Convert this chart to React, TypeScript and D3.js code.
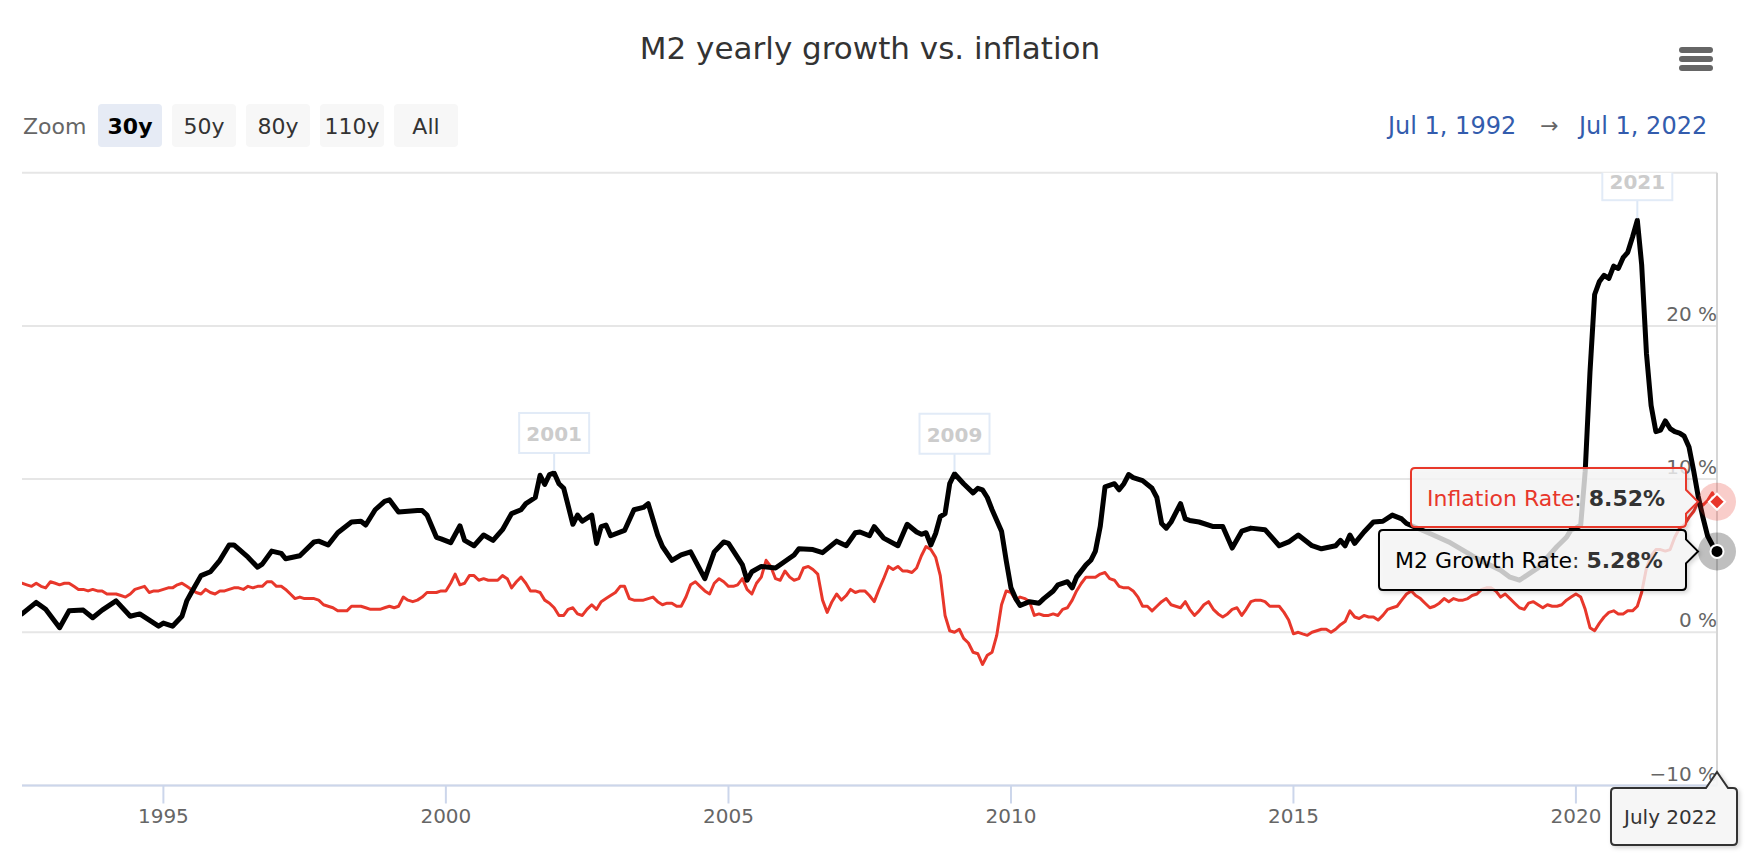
import React from "react";
import * as d3 from "d3";

// ---- data ----
const chartTitle = "M2 yearly growth vs. inflation";
const zoomButtons = ["30y", "50y", "80y", "110y", "All"];
const selectedZoom = "30y";
const rangeFrom = "Jul 1, 1992";
const rangeTo = "Jul 1, 2022";
const hoverLabel = "July 2022";

const xStart = "1992-07";
const xEnd = "2022-07";
const xTickYears = [1995, 2000, 2005, 2010, 2015, 2020];
const yGridValues = [-10, 0, 10, 20, 30];
const yLabelValues = [-10, 0, 10, 20];

// inflation (monthly, from Jul 1992)
const inflationStart = "1992-07";
const inflationValues = [
	3.2, 3.1, 3.0, 3.2, 3.0, 2.9,
	3.3, 3.2, 3.1, 3.2, 3.2, 3.0, 2.8, 2.8, 2.7, 2.8, 2.7, 2.7,
	2.5, 2.5, 2.5, 2.4, 2.3, 2.5, 2.8, 2.9, 3.0, 2.6, 2.7, 2.7,
	2.8, 2.9, 2.9, 3.1, 3.2, 3.0, 2.8, 2.6, 2.5, 2.8, 2.6, 2.5,
	2.7, 2.7, 2.8, 2.9, 2.9, 2.8, 3.0, 2.9, 3.0, 3.0, 3.3, 3.3,
	3.0, 3.0, 2.8, 2.5, 2.2, 2.3, 2.2, 2.2, 2.2, 2.1, 1.8, 1.7,
	1.6, 1.4, 1.4, 1.4, 1.7, 1.7, 1.7, 1.6, 1.5, 1.5, 1.5, 1.6,
	1.7, 1.6, 1.7, 2.3, 2.1, 2.0, 2.1, 2.3, 2.6, 2.6, 2.6, 2.7,
	2.7, 3.2, 3.8, 3.1, 3.2, 3.7, 3.7, 3.4, 3.5, 3.4, 3.4, 3.4,
	3.7, 3.5, 2.9, 3.3, 3.6, 3.2, 2.7, 2.7, 2.6, 2.1, 1.9, 1.6,
	1.1, 1.1, 1.5, 1.6, 1.2, 1.1, 1.5, 1.8, 1.5, 2.0, 2.2, 2.4,
	2.6, 3.0, 3.0, 2.2, 2.1, 2.1, 2.1, 2.2, 2.3, 2.0, 1.8, 1.9,
	1.9, 1.7, 1.7, 2.3, 3.1, 3.3, 3.0, 2.7, 2.5, 3.2, 3.5, 3.3,
	3.0, 3.0, 3.1, 3.5, 2.8, 2.5, 3.2, 3.6, 4.7, 4.3, 3.5, 3.4,
	4.0, 3.6, 3.4, 3.5, 4.2, 4.3, 4.1, 3.8, 2.1, 1.3, 2.0, 2.5,
	2.1, 2.4, 2.8, 2.6, 2.7, 2.7, 2.4, 2.0, 2.8, 3.5, 4.3, 4.1,
	4.3, 4.0, 4.0, 3.9, 4.2, 5.0, 5.6, 5.4, 4.9, 3.7, 1.1, 0.1,
	0.0, 0.2, -0.4, -0.7, -1.3, -1.4, -2.1, -1.5, -1.3, -0.2, 1.8, 2.7,
	2.6, 2.1, 2.3, 2.2, 2.0, 1.1, 1.2, 1.1, 1.1, 1.2, 1.1, 1.5,
	1.6, 2.1, 2.7, 3.2, 3.6, 3.6, 3.6, 3.8, 3.9, 3.5, 3.4, 3.0,
	2.9, 2.9, 2.7, 2.3, 1.7, 1.7, 1.4, 1.7, 2.0, 2.2, 1.8, 1.7,
	1.6, 2.0, 1.5, 1.1, 1.4, 1.8, 2.0, 1.5, 1.2, 1.0, 1.2, 1.5,
	1.6, 1.1, 1.5, 2.0, 2.1, 2.1, 2.0, 1.7, 1.7, 1.7, 1.3, 0.8,
	-0.1, 0.0, -0.1, -0.2, 0.0, 0.1, 0.2, 0.2, 0.0, 0.2, 0.5, 0.7,
	1.4, 1.0, 0.9, 1.1, 1.0, 1.0, 0.8, 1.1, 1.5, 1.6, 1.7, 2.1,
	2.5, 2.7, 2.4, 2.2, 1.9, 1.6, 1.7, 1.9, 2.2, 2.0, 2.2, 2.1,
	2.1, 2.2, 2.4, 2.5, 2.8, 2.9, 2.9, 2.7, 2.3, 2.5, 2.2, 1.9,
	1.6, 1.5, 1.9, 2.0, 1.8, 1.6, 1.8, 1.7, 1.7, 1.8, 2.1, 2.3,
	2.5, 2.3, 1.5, 0.3, 0.1, 0.6, 1.0, 1.3, 1.4, 1.2, 1.2, 1.4,
	1.4, 1.7, 2.6, 4.2, 5.0, 5.4, 5.4, 5.3, 5.4, 6.2, 6.8, 7.0,
	7.5, 7.9, 8.5, 8.3, 8.6, 9.1, 8.52,
];

// M2 growth, points
const m2Points: [string, number][] = [
	["1992-07", 1.2], ["1992-10", 1.95], ["1992-12", 1.5], ["1993-03", 0.3], ["1993-05", 1.4],
	["1993-08", 1.45], ["1993-10", 0.95], ["1993-12", 1.45], ["1994-03", 2.05], ["1994-06", 1.05],
	["1994-08", 1.2], ["1994-12", 0.4], ["1995-01", 0.6], ["1995-03", 0.4], ["1995-05", 1.05],
	["1995-06", 2.05], ["1995-07", 2.6], ["1995-09", 3.7], ["1995-11", 3.95], ["1996-01", 4.7],
	["1996-03", 5.7], ["1996-04", 5.7], ["1996-07", 4.9], ["1996-09", 4.25], ["1996-10", 4.45],
	["1996-12", 5.3], ["1997-02", 5.15], ["1997-03", 4.8], ["1997-06", 5.0], ["1997-09", 5.9],
	["1997-10", 5.95], ["1997-12", 5.7], ["1998-02", 6.5], ["1998-05", 7.2], ["1998-07", 7.25],
	["1998-08", 7.0], ["1998-10", 8.0], ["1998-12", 8.55], ["1999-01", 8.65], ["1999-03", 7.85],
	["1999-07", 7.95], ["1999-08", 7.95], ["1999-09", 7.65], ["1999-11", 6.2], ["1999-12", 6.1],
	["2000-02", 5.85], ["2000-04", 6.95], ["2000-05", 6.0], ["2000-07", 5.65], ["2000-09", 6.35],
	["2000-11", 6.0], ["2001-01", 6.7], ["2001-03", 7.75], ["2001-05", 8.0], ["2001-06", 8.4],
	["2001-08", 8.8], ["2001-09", 10.25], ["2001-10", 9.65], ["2001-11", 10.3], ["2001-12", 10.4],
	["2002-01", 9.7], ["2002-02", 9.4], ["2002-04", 7.05], ["2002-05", 7.65], ["2002-06", 7.25],
	["2002-08", 7.65], ["2002-09", 5.8], ["2002-10", 6.9], ["2002-11", 7.0], ["2002-12", 6.3],
	["2003-03", 6.65], ["2003-05", 8.0], ["2003-07", 8.15], ["2003-08", 8.4], ["2003-10", 6.35],
	["2003-11", 5.6], ["2004-01", 4.7], ["2004-03", 5.05], ["2004-05", 5.25], ["2004-08", 3.5],
	["2004-10", 5.25], ["2004-12", 5.9], ["2005-01", 5.8], ["2005-04", 4.4], ["2005-05", 3.4],
	["2005-06", 3.95], ["2005-08", 4.3], ["2005-11", 4.2], ["2006-02", 4.85], ["2006-03", 5.05],
	["2006-04", 5.45], ["2006-07", 5.4], ["2006-09", 5.2], ["2006-12", 5.95], ["2007-02", 5.65],
	["2007-04", 6.5], ["2007-05", 6.55], ["2007-07", 6.3], ["2007-08", 6.9], ["2007-10", 6.15],
	["2008-01", 5.65], ["2008-03", 7.05], ["2008-05", 6.55], ["2008-06", 6.4], ["2008-07", 6.5],
	["2008-08", 5.7], ["2008-09", 6.45], ["2008-10", 7.55], ["2008-11", 7.75], ["2008-12", 9.7],
	["2009-01", 10.35], ["2009-03", 9.7], ["2009-05", 9.1], ["2009-06", 9.4], ["2009-07", 9.3],
	["2009-08", 8.8], ["2009-09", 8.0], ["2009-11", 6.6], ["2009-12", 4.7], ["2010-01", 2.9],
	["2010-02", 2.2], ["2010-03", 1.75], ["2010-05", 2.0], ["2010-07", 1.9], ["2010-08", 2.2],
	["2010-10", 2.7], ["2010-11", 3.1], ["2011-01", 3.3], ["2011-02", 2.9], ["2011-03", 3.6],
	["2011-05", 4.4], ["2011-06", 4.7], ["2011-07", 5.3], ["2011-08", 6.9], ["2011-09", 9.5],
	["2011-11", 9.7], ["2011-12", 9.3], ["2012-01", 9.7], ["2012-02", 10.3], ["2012-03", 10.1],
	["2012-05", 9.9], ["2012-07", 9.4], ["2012-08", 8.8], ["2012-09", 7.1], ["2012-10", 6.8],
	["2012-11", 7.2], ["2013-01", 8.4], ["2013-02", 7.4], ["2013-03", 7.3], ["2013-05", 7.2],
	["2013-08", 6.9], ["2013-10", 6.9], ["2013-12", 5.5], ["2014-02", 6.6], ["2014-04", 6.8],
	["2014-07", 6.7], ["2014-10", 5.65], ["2014-12", 5.9], ["2015-02", 6.35], ["2015-05", 5.65],
	["2015-07", 5.45], ["2015-10", 5.65], ["2015-11", 6.0], ["2015-12", 5.65], ["2016-01", 6.35],
	["2016-02", 5.8], ["2016-04", 6.55], ["2016-06", 7.2], ["2016-08", 7.25], ["2016-10", 7.65],
	["2016-12", 7.4], ["2017-01", 7.1], ["2017-06", 6.45], ["2017-10", 5.9], ["2018-03", 5.0],
	["2018-06", 4.5], ["2018-09", 4.05], ["2018-11", 3.6], ["2019-01", 3.4], ["2019-03", 3.8],
	["2019-05", 4.2], ["2019-07", 4.9], ["2019-09", 5.6], ["2019-11", 6.2], ["2019-12", 6.7],
	["2020-01", 6.8], ["2020-02", 7.0], ["2020-03", 10.5], ["2020-04", 17.0], ["2020-05", 22.05],
	["2020-06", 22.9], ["2020-07", 23.3], ["2020-08", 23.1], ["2020-09", 23.9], ["2020-10", 23.75],
	["2020-11", 24.45], ["2020-12", 24.8], ["2021-01", 25.8], ["2021-02", 26.9], ["2021-03", 24.0],
	["2021-04", 18.2], ["2021-05", 14.8], ["2021-06", 13.1], ["2021-07", 13.2], ["2021-08", 13.8],
	["2021-09", 13.3], ["2021-10", 13.1], ["2021-11", 13.0], ["2021-12", 12.8], ["2022-01", 12.1],
	["2022-02", 10.5], ["2022-03", 8.9], ["2022-04", 7.5], ["2022-05", 6.3], ["2022-06", 5.7],
	["2022-07", 5.28],
];

const peakLabels = [
	{ text: "2001", month: "2001-12" },
	{ text: "2009", month: "2009-01" },
	{ text: "2021", month: "2021-02" },
];

// ---- layout ----
const W = 1760;
const H = 862;
const PL = 22;
const PR = 1717;
const PT = 172.7;
const PB = 785.5;

const RED = "#e8372b";
const FONT = "'DejaVu Sans', Verdana, sans-serif";
const TIP_FILL = "rgba(247,247,247,0.78)";

type Pt = { date: Date; value: number };

const parseMonth = d3.utcParse("%Y-%m");

function calloutRight(x0: number, y0: number, w: number, h: number, r: number, tx: number, ty: number, half: number) {
	const x1 = x0 + w;
	const y1 = y0 + h;
	const a = Math.max(y0 + r, ty - half);
	const b = Math.min(y1 - r, ty + half);
	return `M${x0 + r},${y0}H${x1 - r}Q${x1},${y0} ${x1},${y0 + r}V${a}L${tx},${ty}L${x1},${b}V${y1 - r}Q${x1},${y1} ${x1 - r},${y1}H${x0 + r}Q${x0},${y1} ${x0},${y1 - r}V${y0 + r}Q${x0},${y0} ${x0 + r},${y0}Z`;
}

function calloutTop(x0: number, y0: number, w: number, h: number, r: number, tx: number, ty: number, half: number) {
	const x1 = x0 + w;
	const y1 = y0 + h;
	return `M${x0 + r},${y0}H${tx - half}L${tx},${ty}L${tx + half},${y0}H${x1 - r}Q${x1},${y0} ${x1},${y0 + r}V${y1 - r}Q${x1},${y1} ${x1 - r},${y1}H${x0 + r}Q${x0},${y1} ${x0},${y1 - r}V${y0 + r}Q${x0},${y0} ${x0 + r},${y0}Z`;
}

export default function App() {
	const x = d3.scaleUtc()
		.domain([parseMonth(xStart)!, parseMonth(xEnd)!])
		.range([PL, PR]);
	const y = d3.scaleLinear().domain([-10, 30]).range([PB, PT]);

	const inflationData: Pt[] = inflationValues.map((v, i) => ({
		date: d3.utcMonth.offset(parseMonth(inflationStart)!, i),
		value: v,
	}));
	const m2Data: Pt[] = m2Points.map(([m, v]) => ({ date: parseMonth(m)!, value: v }));

	const line = d3.line<Pt>().x((d) => x(d.date)).y((d) => y(d.value));

	const lastInfl = inflationData[inflationData.length - 1];
	const lastM2 = m2Data[m2Data.length - 1];
	const ix = x(lastInfl.date);
	const iy = y(lastInfl.value);
	const mx = x(lastM2.date);
	const my = y(lastM2.value);

	return (
		<svg
			width={W}
			height={H}
			style={{ position: "absolute", left: 0, top: 0, display: "block", background: "#fff" }}
			fontFamily={FONT}
		>
			<defs>
				<clipPath id="plotClip">
					<rect x={PL} y={PT} width={PR - PL + 3} height={PB - PT} />
				</clipPath>
				<filter id="tipShadow" x="-10%" y="-20%" width="130%" height="150%">
					<feDropShadow dx="2" dy="2" stdDeviation="2" floodColor="#000" floodOpacity="0.18" />
				</filter>
			</defs>

			{/* title + menu */}
			<text x={870} y={59} textAnchor="middle" fontSize={31} fill="#333">{chartTitle}</text>
			{[47, 56, 65].map((by) => (
				<rect key={by} x={1679} y={by} width={34} height={6} rx={3} fill="#666" />
			))}

			{/* range selector */}
			<text x={23} y={134} fontSize={22} fill="#666">Zoom</text>
			{zoomButtons.map((b, i) => {
				const bx = 98 + i * 74;
				const sel = b === selectedZoom;
				return (
					<g key={b}>
						<rect x={bx} y={104} width={64} height={43} rx={4} fill={sel ? "#e6ebf5" : "#f7f7f7"} />
						<text x={bx + 32} y={134} textAnchor="middle" fontSize={22}
							fontWeight={sel ? "bold" : "normal"} fill={sel ? "#000" : "#333"}>{b}</text>
					</g>
				);
			})}
			<text x={1388} y={134} fontSize={24} fill="#335cad">{rangeFrom}</text>
			<text x={1549.5} y={133} textAnchor="middle" fontSize={22} fill="#666">→</text>
			<text x={1579} y={134} fontSize={24} fill="#335cad">{rangeTo}</text>

			{/* grid */}
			{yGridValues.map((v) => (
				<line key={v} x1={PL} x2={PR} y1={y(v)} y2={y(v)} stroke="#e6e6e6" strokeWidth={2} />
			))}
			<line x1={PR} x2={PR} y1={PT} y2={PB} stroke="#d6d6d6" strokeWidth={2} />
			{yLabelValues.map((v) => (
				<text key={v} x={PR} y={y(v) - 5} textAnchor="end" fontSize={20} fill="#666">
					{v < 0 ? `−${Math.abs(v)}` : v} %
				</text>
			))}

			{/* x axis */}
			<line x1={PL} x2={PR} y1={PB} y2={PB} stroke="#ccd6eb" strokeWidth={2} />
			{xTickYears.map((yr) => {
				const tx = x(new Date(Date.UTC(yr, 0, 1)));
				return (
					<g key={yr}>
						<line x1={tx} x2={tx} y1={PB} y2={PB + 18} stroke="#ccd6eb" strokeWidth={2} />
						<text x={tx} y={PB + 37} textAnchor="middle" fontSize={20} fill="#666">{yr}</text>
					</g>
				);
			})}

			{/* series */}
			<g clipPath="url(#plotClip)">
				<path d={line(inflationData) ?? ""} fill="none" stroke={RED} strokeWidth={3} strokeLinejoin="round" strokeLinecap="round" />
				<path d={line(m2Data) ?? ""} fill="none" stroke="#000" strokeWidth={5} strokeLinejoin="round" strokeLinecap="round" />

				{peakLabels.map((p) => {
					const pt = m2Data.find((d) => +d.date === +parseMonth(p.month)!)!;
					const px = x(pt.date);
					const py = y(pt.value);
					const bw = 70;
					const bh = 40;
					const by = py - 20 - bh;
					return (
						<g key={p.text}>
							<line x1={px} x2={px} y1={by + bh} y2={py - 2} stroke="#dde8f6" strokeWidth={2} />
							<rect x={px - bw / 2} y={by} width={bw} height={bh} fill="#fff" stroke="#e2ebf7" strokeWidth={2} />
							<text x={px} y={by + 28.5} textAnchor="middle" fontSize={20} fontWeight="bold" fill="#cccccc">{p.text}</text>
						</g>
					);
				})}
			</g>

			{/* hover markers */}
			<circle cx={ix} cy={iy} r={19} fill={RED} opacity={0.25} />
			<path d={`M${ix},${iy - 8}L${ix + 8},${iy}L${ix},${iy + 8}L${ix - 8},${iy}Z`} fill={RED} stroke="#fff" strokeWidth={2} />
			<circle cx={mx} cy={my} r={19} fill="#000" opacity={0.25} />
			<circle cx={mx} cy={my} r={6.5} fill="#000" stroke="#fff" strokeWidth={2} />

			{/* split tooltip */}
			<g filter="url(#tipShadow)">
				<path d={calloutRight(1411, 468, 275, 59, 4, ix - 19, iy, 12)} fill={TIP_FILL} stroke={RED} strokeWidth={2} />
				<path d={calloutRight(1379, 530, 307, 60, 4, mx - 19, my, 12)} fill={TIP_FILL} stroke="#000" strokeWidth={2} />
				<path d={calloutTop(1611, 788, 126, 57, 4, ix, 772, 11)} fill="rgba(247,247,247,0.9)" stroke="#333" strokeWidth={2} />
			</g>
			<text x={1427} y={506} fontSize={22} fill="#333">
				<tspan fill={RED}>Inflation Rate</tspan>
				<tspan>: </tspan>
				<tspan fontWeight="bold">{lastInfl.value.toFixed(2)}%</tspan>
			</text>
			<text x={1395} y={568} fontSize={22} fill="#333">
				<tspan fill="#000">M2 Growth Rate</tspan>
				<tspan>: </tspan>
				<tspan fontWeight="bold">{lastM2.value.toFixed(2)}%</tspan>
			</text>
			<text x={1624} y={824} fontSize={20} fill="#333">{hoverLabel}</text>
		</svg>
	);
}
